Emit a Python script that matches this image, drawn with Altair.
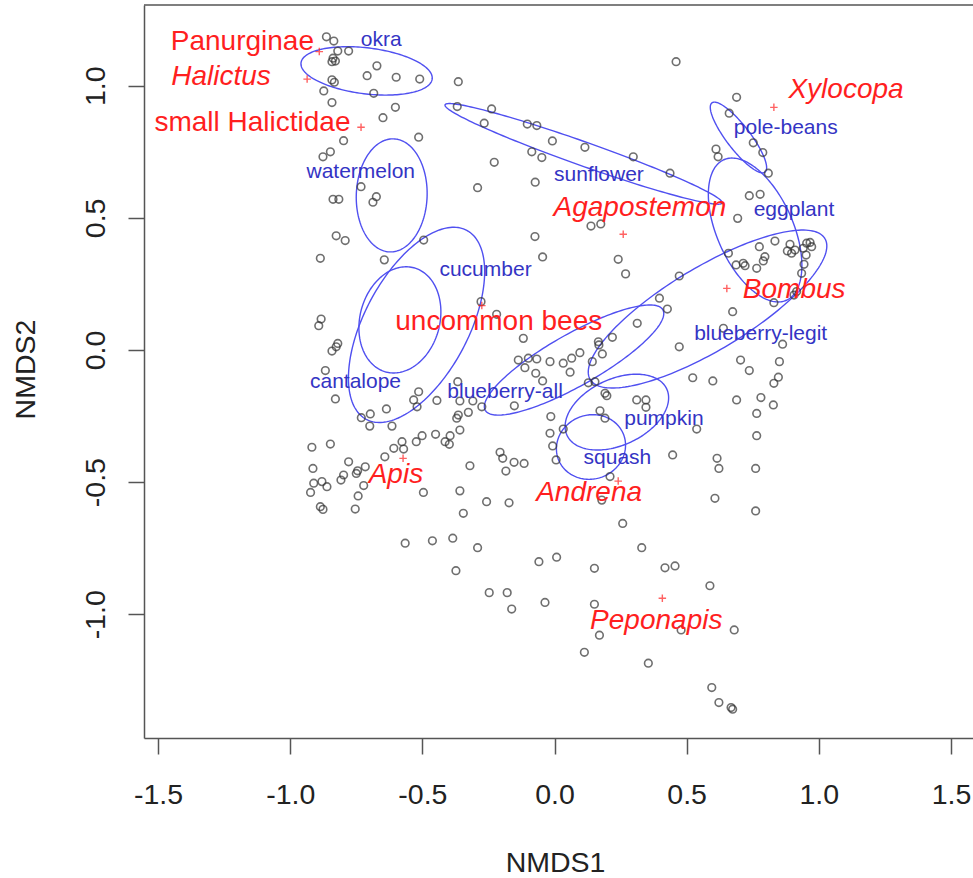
import altair as alt
import numpy as np
import pandas as pd

FONT = "Liberation Sans"

# ---- site scores (NMDS1, NMDS2) ----
site_x = [
    -0.863, -0.835, -0.820, -0.779, -0.838, -0.829, -0.842, -0.672, -0.709, -0.599,
    -0.510, -0.842, -0.833, -0.873, -0.684, -0.842, -0.602, -0.649, -0.798, -0.514,
    -0.848, -0.876, -0.732, -0.674, -0.687, -0.838, -0.816, -0.826, -0.792, -0.495,
    0.460, -0.364, -0.368, -0.238, -0.266, -0.103, -0.067, -0.008, 0.115, -0.086,
    -0.048, 0.298, -0.228, 0.437, 0.611, 0.619, -0.291, -0.073, 0.138, 0.175,
    -0.074, -0.045,
    0.689, 0.661, 0.752, 0.788, 0.809, 0.737, 0.778, 0.693, 0.834, 0.775,
    0.891, 0.881, 0.910, 0.941, 0.954, 0.967, 0.973,
    -0.886, -0.644, -0.883, -0.892, -0.820, -0.826, -0.842, -0.867, -0.829, -0.514,
    -0.533, -0.520, -0.636, -0.731, -0.697, -0.699, -0.615, -0.445, -0.918, -0.848,
    -0.450, -0.501, -0.523, -0.577, -0.608, -0.571, -0.642, -0.779, -0.716, -0.745,
    -0.750, -0.914, -0.798, -0.808, -0.911, -0.880, -0.861, -0.923, -0.722, -0.496,
    -0.886, -0.876, -0.743, -0.754, -0.565, -0.462,
    0.241, 0.269, 0.472, -0.278, 0.397, 0.427, -0.219, 0.313, -0.118, 0.219,
    0.166, 0.168, 0.472, 0.181, 0.096, 0.065, -0.137, -0.099, -0.067, -0.017,
    0.033, 0.143, -0.112, 0.059, -0.071, -0.045, 0.128, 0.153, 0.523, 0.599,
    -0.366, 0.191, 0.198, 0.311, 0.346, 0.346, -0.358, -0.309, -0.275, -0.152,
    -0.326, -0.364, -0.370, 0.172, 0.191, -0.014, 0.033, -0.017, -0.358, -0.395,
    -0.414, -0.398, -0.007, 0.538, 0.447, -0.206, -0.196, -0.153, -0.115, 0.006,
    -0.320, -0.184, 0.210, 0.615, 0.622, -0.358,
    -0.257, -0.172, -0.345, 0.179, 0.607, 0.258, -0.385, -0.291, 0.330, -0.059,
    0.008, 0.151, 0.418, 0.456, -0.373, -0.247, -0.179, -0.162, -0.036, 0.151,
    0.588, 0.170, 0.479, 0.113, 0.355, 0.595, 0.622, 0.761, 0.680, 0.674, 0.668,
    0.658, 0.796, 0.790, 0.714, 0.687, 0.721, 0.765, 0.897, 0.952, 0.944,
    0.935, 0.916, 0.906, 0.830, 0.674, 0.639, 0.863, 0.704, 0.851, 0.737,
    0.847, 0.830, 0.781, 0.689, 0.828, 0.765, 0.765, 0.761,
]
site_y = [
    1.185, 1.169, 1.131, 1.131, 1.104, 1.093, 1.091, 1.075, 1.038, 1.032,
    1.025, 1.022, 1.013, 0.980, 0.971, 0.936, 0.918, 0.879, 0.792, 0.805,
    0.750, 0.731, 0.618, 0.580, 0.559, 0.570, 0.570, 0.432, 0.414, 0.416,
    1.091, 1.015, 0.921, 0.912, 0.858, 0.855, 0.849, 0.791, 0.767, 0.750,
    0.728, 0.731, 0.710, 0.669, 0.760, 0.731, 0.614, 0.635, 0.469, 0.477,
    0.429, 0.352,
    0.956, 0.896, 0.784, 0.747, 0.669, 0.584, 0.589, 0.498, 0.412, 0.391,
    0.400, 0.375, 0.378, 0.385, 0.404, 0.407, 0.391,
    0.347, 0.341, 0.117, 0.092, 0.025, 0.012, -0.004, -0.078, -0.185, -0.158,
    -0.189, -0.215, -0.223, -0.256, -0.242, -0.288, -0.288, -0.191, -0.368, -0.356,
    -0.319, -0.324, -0.347, -0.347, -0.372, -0.375, -0.404, -0.423, -0.442, -0.457,
    -0.467, -0.448, -0.473, -0.492, -0.504, -0.498, -0.517, -0.539, -0.513, -0.539,
    -0.593, -0.603, -0.552, -0.602, -0.731, -0.722,
    0.343, 0.288, 0.280, 0.183, 0.196, 0.155, 0.135, 0.101, 0.044, 0.048,
    0.031, 0.019, 0.012, -0.015, -0.010, -0.031, -0.038, -0.031, -0.034, -0.044,
    -0.050, -0.044, -0.067, -0.084, -0.088, -0.117, -0.124, -0.120, -0.105, -0.117,
    -0.120, -0.164, -0.173, -0.189, -0.189, -0.217, -0.193, -0.193, -0.215, -0.211,
    -0.236, -0.246, -0.258, -0.230, -0.258, -0.252, -0.299, -0.315, -0.303, -0.324,
    -0.347, -0.357, -0.363, -0.299, -0.397, -0.387, -0.410, -0.425, -0.429, -0.416,
    -0.438, -0.458, -0.479, -0.410, -0.448, -0.533,
    -0.574, -0.578, -0.618, -0.568, -0.561, -0.656, -0.712, -0.748, -0.748, -0.801,
    -0.784, -0.826, -0.824, -0.817, -0.835, -0.918, -0.918, -0.980, -0.955, -0.962,
    -0.892, -1.079, -1.059, -1.144, -1.185, -1.277, -1.334, -0.609, -1.059, -1.359, -1.353,
    0.366, 0.353, 0.337, 0.328, 0.322, 0.319, 0.309, 0.366, 0.359, 0.324,
    0.290, 0.221, 0.208, 0.179, 0.145, 0.082, 0.022, -0.038, -0.044, -0.078,
    -0.103, -0.126, -0.180, -0.189, -0.208, -0.240, -0.324, -0.448,
]

# ---- species scores (red) ----
sp_names = ["Panurginae", "Halictus", "small Halictidae", "Xylocopa", "Agapostemon",
            "Bombus", "uncommon bees", "Apis", "Andrena", "Peponapis"]
sp_italic = [False, True, False, True, True, True, False, True, True, True]
sp_x = [-0.890, -0.936, -0.732, 0.830, 0.260, 0.652, -0.275, -0.573, 0.241, 0.408]
sp_y = [1.129, 1.025, 0.843, 0.918, 0.438, 0.233, 0.168, -0.410, -0.496, -0.939]
sp_lab_x = [-1.181, -1.262, -1.143, 1.103, 0.323, 0.907, -0.211, -0.600, 0.131, 0.385]
sp_lab_y = [1.166, 1.034, 0.858, 0.984, 0.537, 0.227, 0.106, -0.473, -0.541, -1.024]

# ---- crop groups (blue ellipses + labels) ----
grp_names = ["okra", "watermelon", "cucumber", "cantalope", "sunflower", "pole-beans",
             "eggplant", "blueberry-legit", "blueberry-all", "pumpkin", "squash"]
grp_lab_x = [-0.656, -0.733, -0.261, -0.753, 0.168, 0.875, 0.906, 0.780, -0.187, 0.414, 0.238]
grp_lab_y = [1.173, 0.675, 0.303, -0.120, 0.662, 0.841, 0.530, 0.059, -0.158, -0.261, -0.410]
ell_cx = [-0.711, -0.616, -0.522, -0.585, 0.110, 0.696, 0.759, 0.579, 0.074, 0.236, 0.138]
ell_cy = [1.056, 0.585, 0.095, 0.114, 0.742, 0.804, 0.454, 0.155, -0.038, -0.235, -0.367]
ell_a = [0.250, 0.214, 0.405, 0.204, 0.556, 0.165, 0.291, 0.518, 0.386, 0.208, 0.132]
ell_b = [0.087, 0.134, 0.197, 0.151, 0.045, 0.045, 0.144, 0.157, 0.098, 0.125, 0.121]
ell_angle = [-7, 88, 62, 75, -19.5, 127.5, 114, 31, 29.5, 25, 20]

x_ticks = [-1.5, -1.0, -0.5, 0.0, 0.5, 1.0, 1.5]
y_ticks = [-1.0, -0.5, 0.0, 0.5, 1.0]

# ---- build tables ----
sites = pd.DataFrame({"NMDS1": site_x, "NMDS2": site_y})
species = pd.DataFrame({"NMDS1": sp_x, "NMDS2": sp_y})
sp_labels = pd.DataFrame({"NMDS1": sp_lab_x, "NMDS2": sp_lab_y, "label": sp_names,
                          "italic": sp_italic})
grp_labels = pd.DataFrame({"NMDS1": grp_lab_x, "NMDS2": grp_lab_y, "label": grp_names})

t = np.linspace(0, 2 * np.pi, 181)
rows = []
for g, cx, cy, a, b, ang in zip(grp_names, ell_cx, ell_cy, ell_a, ell_b, ell_angle):
    th = np.deg2rad(ang)
    ex = cx + a * np.cos(t) * np.cos(th) - b * np.sin(t) * np.sin(th)
    ey = cy + a * np.cos(t) * np.sin(th) + b * np.sin(t) * np.cos(th)
    for k, (xx, yy) in enumerate(zip(ex, ey)):
        rows.append({"group": g, "k": k, "NMDS1": xx, "NMDS2": yy})
ellipses = pd.DataFrame(rows)

# ---- scales / axes ----
xscale = alt.Scale(domain=[-1.5532, 1.5834], nice=False, zero=False)
yscale = alt.Scale(domain=[-1.4680, 1.3053], nice=False, zero=False)
lab_expr = "(datum.value < 0 ? '-' : '') + format(abs(datum.value), '.1f')"

x_axis = alt.Axis(values=x_ticks, labelExpr=lab_expr, title="NMDS1", grid=False,
                  labelFont=FONT, labelFontSize=28.5, labelColor="#222222",
                  labelBaseline="middle", labelPadding=40, labelFlush=False, labelOverlap=False,
                  tickSize=16, tickWidth=1.5, tickColor="#555555",
                  domainColor="#555555", domainWidth=1.5,
                  titleFont=FONT, titleFontSize=28.5, titleFontWeight="normal",
                  titleColor="#222222", titleX=411, titleY=124,
                  titleBaseline="middle", titleAlign="center")
y_axis = alt.Axis(values=y_ticks, labelExpr=lab_expr, title="NMDS2", grid=False,
                  labelFont=FONT, labelFontSize=28.5, labelColor="#222222",
                  labelAngle=270, labelAlign="center", labelBaseline="middle",
                  labelPadding=33, labelFlush=False, labelOverlap=False,
                  tickSize=16, tickWidth=1.5, tickColor="#555555",
                  domainColor="#555555", domainWidth=1.5,
                  titleFont=FONT, titleFontSize=28.5, titleFontWeight="normal",
                  titleColor="#222222", titleAngle=270, titleX=-119, titleY=364,
                  titleBaseline="middle", titleAlign="center")

X = alt.X("NMDS1:Q", scale=xscale, axis=x_axis)
Y = alt.Y("NMDS2:Q", scale=yscale, axis=y_axis)

ell_layer = alt.Chart(ellipses).mark_line(strokeWidth=1.4, color="#5050F0").encode(
    x=X, y=Y, detail="group:N", order="k:Q")

pts_layer = alt.Chart(sites).mark_point(shape="circle", filled=False, size=58,
                                        stroke="#333333", strokeWidth=1.6).encode(x=X, y=Y)

sp_layer = alt.Chart(species).mark_point(shape="M-1,0L1,0M0,-1L0,1", filled=False, size=56,
                                         stroke="#FF2020", strokeWidth=1.4).encode(x=X, y=Y)

grp_text = alt.Chart(grp_labels).mark_text(font=FONT, fontSize=21, color="#3434C4",
                                           align="center", baseline="middle").encode(
    x=X, y=Y, text="label:N")

sp_text_norm = alt.Chart(sp_labels[~sp_labels["italic"]]).mark_text(
    font=FONT, fontSize=28, color="#FF1F1F", align="center", baseline="middle").encode(
    x=X, y=Y, text="label:N")
sp_text_ital = alt.Chart(sp_labels[sp_labels["italic"]]).mark_text(
    font=FONT, fontSize=28, fontStyle="italic", color="#FF1F1F", align="center",
    baseline="middle").encode(x=X, y=Y, text="label:N")

top_frame = alt.Chart(pd.DataFrame({"f": [0]})).mark_rule(color="#555555", strokeWidth=1.5).encode(
    x=alt.value(0), x2=alt.value(829), y=alt.value(0))

chart = alt.layer(ell_layer, pts_layer, sp_layer, grp_text, sp_text_norm, sp_text_ital,
                  top_frame).properties(
    width=829, height=733,
    autosize=alt.AutoSizeParams(type="none"),
    padding={"left": 144, "top": 5, "right": 0, "bottom": 140},
    background="white",
).configure_view(strokeWidth=0)

chart.save("out.html", embed_options={"renderer": "svg", "actions": False})
